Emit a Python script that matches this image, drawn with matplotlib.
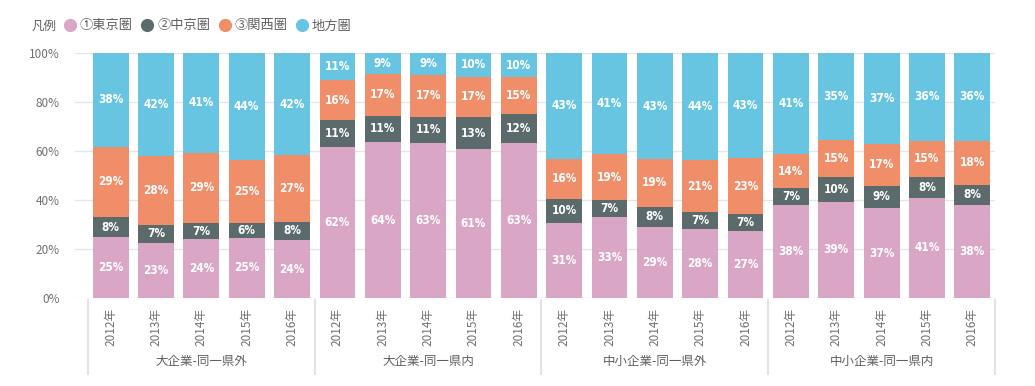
import matplotlib
matplotlib.use("Agg")
import matplotlib.pyplot as plt
import matplotlib.transforms as mtransforms
from matplotlib.lines import Line2D
import numpy as np

plt.rcParams['font.family'] = ['Noto Sans CJK JP', 'DejaVu Sans']

# Categories
groups = ["大企業-同一県外", "大企業-同一県内", "中小企業-同一県外", "中小企業-同一県内"]
years = ["2012年", "2013年", "2014年", "2015年", "2016年"]
series = ["①東京圏", "②中京圏", "③関西圏", "地方圏"]
colors = ["#d9a6c6", "#5b6b6c", "#f08e6a", "#68c5e1"]

# Shares (%) per bar, in order of groups x years
tokyo = [24.8, 22.6, 23.9, 24.6, 23.6,
         61.6, 63.6, 63.3, 60.9, 63.1,
         30.6, 33.2, 29.0, 28.2, 27.2,
         38.1, 39.2, 36.7, 41.0, 38.1]
chukyo = [8.3, 7.2, 6.7, 6.2, 7.6,
          11.1, 10.8, 10.7, 12.8, 12.0,
          10.0, 6.7, 8.3, 6.7, 7.1,
          6.8, 10.2, 9.2, 8.3, 8.2]
kansai = [28.7, 28.3, 28.6, 25.4, 27.0,
          16.1, 17.0, 17.2, 16.7, 15.1,
          16.3, 18.9, 19.4, 21.3, 22.8,
          13.7, 15.2, 17.0, 14.9, 17.9]
chiho = [38.2, 41.9, 40.8, 43.8, 41.8,
         11.2, 8.6, 8.8, 9.6, 9.8,
         43.1, 41.2, 43.3, 43.8, 42.9,
         41.4, 35.4, 37.1, 35.8, 35.8]

data = [tokyo, chukyo, kansai, chiho]
n = len(tokyo)
x = np.arange(n)

fig = plt.figure(figsize=(10.35, 3.86), dpi=100)
ax = fig.add_axes([75 / 1035, 1 - 298 / 386, 920 / 1035, 245 / 386])

bottom = np.zeros(n)
for vals, col in zip(data, colors):
    vals = np.array(vals)
    ax.bar(x, vals, 0.79, bottom=bottom, color=col, zorder=2)
    for xi, b, v in zip(x, bottom, vals):
        ax.text(xi, b + v / 2, f"{round(v)}%", ha="center", va="center",
                color="white", fontsize=8.5, family="DejaVu Sans",
                fontstretch="condensed", fontweight="bold", zorder=3)
    bottom += vals

ax.set_ylim(0, 100)
ax.set_xlim(-0.5 - 13 / 45.4, n - 0.5)
ax.set_yticks([0, 20, 40, 60, 80, 100])
ax.set_yticklabels([f"{v}%" for v in [0, 20, 40, 60, 80, 100]])
ax.grid(axis="y", color="#e6e6e6", linewidth=1, zorder=0)
ax.tick_params(axis="y", length=0, pad=11, labelsize=8.5, labelcolor="#707070")
for s in ax.spines.values():
    s.set_visible(False)

ax.set_xticks(x)
ax.set_xticklabels(years * len(groups), rotation=90, fontsize=8.5, color="#707070")
ax.tick_params(axis="x", length=0, pad=7)

trans = mtransforms.blended_transform_factory(ax.transData, ax.transAxes)
for i in range(len(groups) + 1):
    ax.plot([i * 5 - 0.5] * 2, [-0.01, -0.31], transform=trans, color="#e3e3e3",
            linewidth=1.5, clip_on=False)
for i, g in enumerate(groups):
    ax.text(i * 5 + 2, -0.26, g, transform=trans, ha="center", va="center",
            fontsize=9, color="#606060")

# Legend
fig.text(32 / 1035, 1 - 26 / 386, "凡例", fontsize=9, color="#606060", va="center")
handles = [Line2D([], [], marker="o", linestyle="", markersize=8.5,
                  markerfacecolor=c, markeredgecolor=c) for c in colors]
fig.legend(handles, series, loc="center left", bbox_to_anchor=(62 / 1035, 1 - 26 / 386),
           ncol=4, frameon=False, fontsize=9.5, handletextpad=0.15, columnspacing=0.5,
           handlelength=1.2, borderaxespad=0, borderpad=0, labelcolor="#606060")

fig.savefig("out.png", dpi=100, facecolor="white")
